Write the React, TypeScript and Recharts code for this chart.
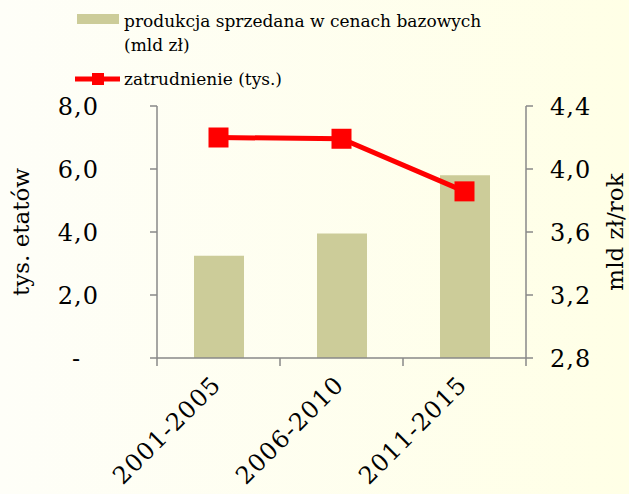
import { ComposedChart, Bar, Line, XAxis, YAxis, Legend, Label } from "recharts";

const categories = ["2001-2005", "2006-2010", "2011-2015"];
const produkcja = [3.45, 3.59, 3.96];
const zatrudnienie = [7.0, 6.96, 5.29];
const leftTicks = [0, 2, 4, 6, 8];
const rightTicks = [2.8, 3.2, 3.6, 4.0, 4.4];
const legendBarLines = ["produkcja sprzedana w cenach bazowych", "(mld zł)"];
const legendLineLabel = "zatrudnienie (tys.)";
const leftTitle = "tys. etatów";
const rightTitle = "mld zł/rok";

const data = categories.map((okres, i) => ({
  okres,
  produkcja: produkcja[i],
  zatrudnienie: zatrudnienie[i],
}));

const W = 629;
const H = 494;
const TOP = 106;
const LEFT_W = 157;
const RIGHT_W = 103;
const XAXIS_H = 136;
const PLOT_W = W - LEFT_W - RIGHT_W;
const BAND = PLOT_W / categories.length;
const AXIS_Y = H - XAXIS_H;

const FONT = "'DejaVu Serif', serif";
const AXIS = "#888888";
const BAR = "#cccc99";
const RED = "#ff0000";

const fmt = (v: number) => v.toFixed(1).replace(".", ",");

const XTick = (props: any) => {
  const { x, payload, index } = props;
  const ax = x + 4;
  const ay = AXIS_Y + 28;
  return (
    <g>
      <line x1={x - BAND / 2} x2={x - BAND / 2} y1={AXIS_Y} y2={AXIS_Y + 8} stroke={AXIS} strokeWidth={1.5} />
      {index === categories.length - 1 && (
        <line x1={x + BAND / 2} x2={x + BAND / 2} y1={AXIS_Y} y2={AXIS_Y + 8} stroke={AXIS} strokeWidth={1.5} />
      )}
      <text
        x={ax}
        y={ay}
        transform={`rotate(-45 ${ax} ${ay})`}
        textAnchor="end"
        fontFamily={FONT}
        fontSize={24}
        letterSpacing={1.2}
        fill="#000"
      >
        {payload.value}
      </text>
    </g>
  );
};

const LeftTick = (props: any) => {
  const { y, payload } = props;
  const zero = payload.value === 0;
  return (
    <text
      x={zero ? LEFT_W - 76 : LEFT_W - 58}
      y={y}
      dy="0.36em"
      textAnchor="end"
      fontFamily={FONT}
      fontSize={24}
      letterSpacing={1}
      fill="#000"
    >
      {zero ? "-" : fmt(payload.value)}
    </text>
  );
};

const RightTick = (props: any) => {
  const { y, payload } = props;
  return (
    <text
      x={LEFT_W + PLOT_W + 24}
      y={y}
      dy="0.36em"
      textAnchor="start"
      fontFamily={FONT}
      fontSize={24}
      letterSpacing={1}
      fill="#000"
    >
      {fmt(payload.value)}
    </text>
  );
};

const SquareDot = (props: any) => {
  const { cx, cy } = props;
  if (cx == null || cy == null) return null;
  return <rect x={cx - 10} y={cy - 10} width={20} height={20} fill={RED} />;
};

const LegendContent = () => (
  <svg width={W} height={100} style={{ display: "block" }}>
    <rect x={77} y={14} width={42} height={10} fill={BAR} />
    {legendBarLines.map((t, i) => (
      <text key={t} x={124} y={27 + i * 23.5} fontFamily={FONT} fontSize={17} fill="#000">
        {t}
      </text>
    ))}
    <line x1={75} x2={120} y1={79} y2={79} stroke={RED} strokeWidth={5} />
    <rect x={92} y={73} width={12} height={12} fill={RED} />
    <text x={124} y={85} fontFamily={FONT} fontSize={17} fill="#000">
      {legendLineLabel}
    </text>
  </svg>
);

const AxisTitle = (dx: number, text: string) => (props: any) => {
  const vb = props.viewBox;
  const bx = vb.x + dx;
  const cy = vb.y + vb.height / 2;
  return (
    <text
      x={bx}
      y={cy}
      transform={`rotate(-90 ${bx} ${cy})`}
      textAnchor="middle"
      fontFamily={FONT}
      fontSize={23}
      fill="#000"
    >
      {text}
    </text>
  );
};

export default function App() {
  return (
    <div
      style={{
        position: "absolute",
        left: 0,
        top: 0,
        width: W,
        height: H,
        background: "linear-gradient(to right, #fefef8, #ffffe6)",
      }}
    >
      <ComposedChart
        width={W}
        height={H}
        data={data}
        margin={{ top: TOP, right: 0, bottom: 0, left: 0 }}
      >
        <XAxis
          dataKey="okres"
          height={XAXIS_H}
          interval={0}
          tickLine={false}
          axisLine={{ stroke: AXIS, strokeWidth: 1.5 }}
          tick={<XTick />}
        />
        <YAxis
          yAxisId="left"
          orientation="left"
          width={LEFT_W}
          domain={[0, 8]}
          ticks={leftTicks}
          tickSize={7}
          axisLine={{ stroke: AXIS, strokeWidth: 1.5 }}
          tickLine={{ stroke: AXIS, strokeWidth: 1.5 }}
          tick={<LeftTick />}
        >
          <Label content={AxisTitle(29, leftTitle)} />
        </YAxis>
        <YAxis
          yAxisId="right"
          orientation="right"
          width={RIGHT_W}
          domain={[2.8, 4.4]}
          ticks={rightTicks}
          tickSize={7}
          axisLine={{ stroke: AXIS, strokeWidth: 1.5 }}
          tickLine={{ stroke: AXIS, strokeWidth: 1.5 }}
          tick={<RightTick />}
        >
          <Label content={AxisTitle(97, rightTitle)} />
        </YAxis>
        <Legend
          layout="vertical"
          align="center"
          verticalAlign="middle"
          content={<LegendContent />}
          wrapperStyle={{ top: 0, left: 0, width: W, height: 100 }}
        />
        <Bar
          yAxisId="right"
          dataKey="produkcja"
          name="produkcja sprzedana w cenach bazowych (mld zł)"
          fill={BAR}
          barSize={50}
          isAnimationActive={false}
        />
        <Line
          yAxisId="left"
          dataKey="zatrudnienie"
          name="zatrudnienie (tys.)"
          stroke={RED}
          strokeWidth={5}
          dot={<SquareDot />}
          activeDot={false}
          isAnimationActive={false}
        />
      </ComposedChart>
    </div>
  );
}
